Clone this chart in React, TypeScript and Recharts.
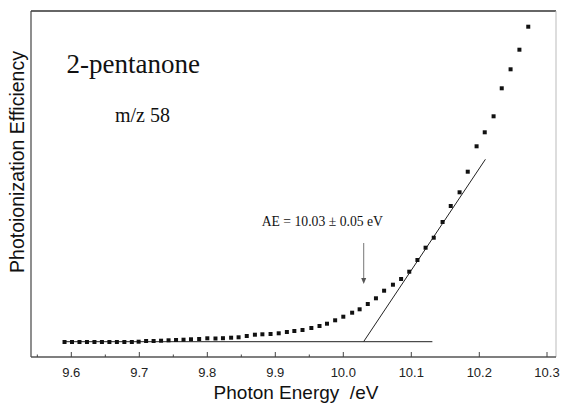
import {
  ScatterChart,
  Scatter,
  XAxis,
  YAxis,
  ReferenceLine,
  ReferenceDot,
  Customized
} from 'recharts'

// photon energy (eV) for each measured point
const energy = [
  9.59, 9.601, 9.612, 9.623, 9.634, 9.645, 9.656, 9.667, 9.678, 9.689,
  9.699, 9.71, 9.721, 9.732, 9.743, 9.754, 9.765, 9.776, 9.788, 9.8,
  9.812, 9.823, 9.835, 9.846, 9.858, 9.87, 9.881, 9.893, 9.905, 9.917,
  9.928, 9.94, 9.953, 9.965, 9.976, 9.988, 10.0, 10.013, 10.024, 10.036,
  10.048, 10.06, 10.073, 10.085, 10.097, 10.109, 10.121, 10.133, 10.146, 10.158,
  10.171, 10.183, 10.196, 10.208, 10.221, 10.233, 10.246, 10.259, 10.272
]

// photoionization efficiency, arbitrary units
const efficiency = [
  15, 15, 15, 15, 15, 15, 15, 15, 15, 15,
  15.3, 16, 16, 16.3, 16.7, 17, 17.3, 17.7, 18, 18.7,
  18.5, 18.8, 19.3, 19.7, 21, 22.3, 22.7, 23, 23.7, 25,
  26, 27, 29, 31, 33.3, 36.7, 40.3, 44.3, 47.7, 53,
  58.7, 66.3, 72.3, 78, 85.3, 97, 109.3, 119.3, 135, 151,
  164.7, 185.3, 210.7, 224.7, 240.7, 268.7, 287.7, 307.3, 330.3
]

const xTicks = [
  9.55, 9.6, 9.65, 9.7, 9.75, 9.8, 9.85, 9.9, 9.95, 10.0,
  10.05, 10.1, 10.15, 10.2, 10.25, 10.3
]

// threshold construction lines
const baseline = [
  { x: 9.588, y: 15.3 },
  { x: 10.131, y: 15.3 }
]
const tangent = [
  { x: 10.03, y: 15.5 },
  { x: 10.209, y: 197.7 }
]
const arrowLine = [
  { x: 10.03, y: 114 },
  { x: 10.03, y: 79 }
]

const X_MIN = 9.5407
const X_MAX = 10.3128
const Y_MAX = 346

const points = energy.map((x, i) => ({ x, y: efficiency[i] }))

const serif = '"Liberation Serif", "Times New Roman", serif'
const sans = '"Liberation Sans", Arial, sans-serif'

function Square(props: any) {
  const { cx, cy } = props
  return <rect x={cx - 2} y={cy - 2} width={4} height={4} fill="#111" />
}

function ArrowHead(props: any) {
  const { cx, cy } = props
  return (
    <polygon
      points={`${cx - 2.5},${cy - 3} ${cx + 2.5},${cy - 3} ${cx},${cy + 3}`}
      fill="#555"
    />
  )
}

function XTick(props: any) {
  const { x, y, payload } = props
  const v = payload.value as number
  const major = Math.abs(v * 10 - Math.round(v * 10)) < 1e-6
  return (
    <g>
      <line x1={x} x2={x} y1={y} y2={y - (major ? 5 : 2.5)} stroke="#444" />
      {major && (
        <text x={x} y={y + 20} textAnchor="middle" fontSize={13} fontFamily={sans} fill="#222">
          {v.toFixed(1)}
        </text>
      )}
    </g>
  )
}

function Texts() {
  return (
    <g>
      <text x={66.5} y={73.3} fontSize={27} fontFamily={serif} fill="#111">
        2-pentanone
      </text>
      <text x={115} y={121.7} fontSize={20} fontFamily={serif} fill="#111">
        m/z 58
      </text>
      <text x={261.7} y={226} fontSize={13.7} fontFamily={serif} fill="#111">
        AE = 10.03 ± 0.05 eV
      </text>
      <text
        x={23.5}
        y={162}
        transform="rotate(-90 23.5 162)"
        textAnchor="middle"
        fontSize={19.5}
        fontFamily={sans}
        fill="#111"
      >
        Photoionization Efficiency
      </text>
      <text x={296} y={399} textAnchor="middle" fontSize={19} fontFamily={sans} fill="#111">
        {'Photon Energy\u00a0 /eV'}
      </text>
    </g>
  )
}

export default function App() {
  return (
    <div style={{ position: 'absolute', left: 0, top: 0, width: 561, height: 404, background: '#fff' }}>
      <ScatterChart width={561} height={404} margin={{ top: 11, right: 5, bottom: 0, left: 31 }}>
        <XAxis
          type="number"
          dataKey="x"
          domain={[X_MIN, X_MAX]}
          ticks={xTicks}
          tick={<XTick />}
          tickLine={false}
          tickSize={0}
          tickMargin={0}
          height={47}
          axisLine={{ stroke: '#555', strokeWidth: 1.6 }}
          allowDataOverflow
        />
        <YAxis type="number" dataKey="y" domain={[0, Y_MAX]} hide allowDataOverflow />
        <ReferenceLine y={Y_MAX} stroke="#333" strokeWidth={1.5} />
        <ReferenceLine x={X_MIN} stroke="#444" strokeWidth={1.2} />
        <ReferenceLine x={X_MAX} stroke="#bbb" strokeWidth={1} />
        <ReferenceLine segment={baseline} stroke="#222" strokeWidth={1} />
        <ReferenceLine segment={tangent} stroke="#222" strokeWidth={1} />
        <ReferenceLine segment={arrowLine} stroke="#777" strokeWidth={1} />
        <ReferenceDot x={10.03} y={76} r={3} shape={<ArrowHead />} />
        <Scatter data={points} shape={<Square />} isAnimationActive={false} />
        <Customized component={<Texts />} />
      </ScatterChart>
    </div>
  )
}
